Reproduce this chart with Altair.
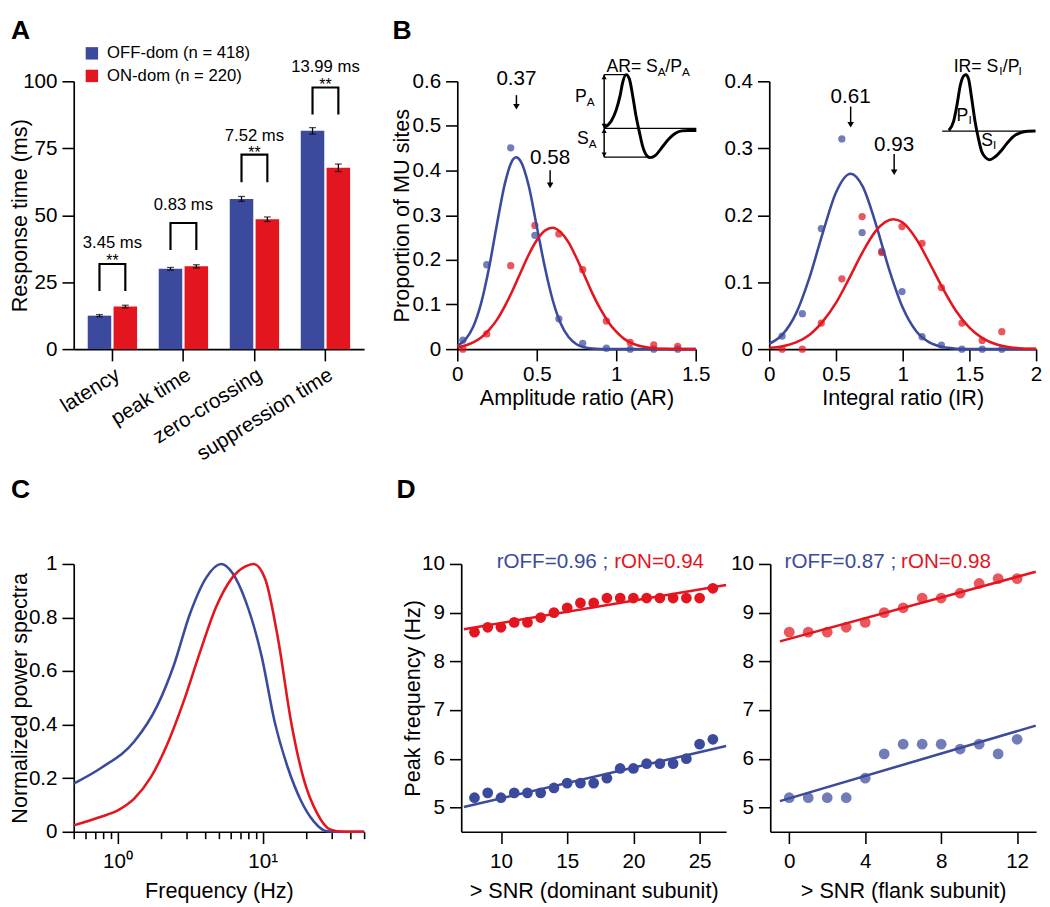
import altair as alt
import pandas as pd

BLUE = "#3C4A9E"
RED = "#E3151E"
FONT = "Liberation Sans"

# ---------------- Panel A data ----------------
a_cats = ["latency", "peak time", "zero-crossing", "suppression time"]
a_series = ["OFF-dom (n = 418)", "ON-dom (n = 220)"]
a_off = [12.5, 30.0, 56.1, 81.5]
a_on = [15.9, 30.9, 48.5, 67.7]
a_off_err = [0.4, 0.5, 0.9, 1.2]
a_on_err = [0.5, 0.6, 0.85, 1.4]
a_diff_label = ["3.45 ms", "0.83 ms", "7.52 ms", "13.99 ms"]
a_diff_y = [37.6, 52.0, 77.6, 103.4]
a_star_cats = ["latency", "zero-crossing", "suppression time"]
a_star_y = [30.9, 71.2, 96.8]
a_br_low = [21.7, 37.0, 62.3, 87.6]
a_br_high = [31.8, 47.1, 72.6, 97.7]

# ---------------- Panel B data (amplitude ratio) ----------------
ar_px = [0.035, 0.185, 0.336, 0.488, 0.639, 0.789, 0.938, 1.088, 1.236, 1.387]
ar_off = [0.020, 0.189, 0.451, 0.255, 0.068, 0.013, 0.002, 0.0, 0.0, 0.0]
ar_on = [0.0, 0.034, 0.187, 0.277, 0.258, 0.178, 0.063, 0.015, 0.0095, 0.006]
ar_off_cx = [0.0, 0.05, 0.10, 0.15, 0.20, 0.25, 0.30, 0.35, 0.37, 0.40, 0.45, 0.50, 0.55, 0.60, 0.65, 0.70, 0.75, 0.80, 0.85, 0.90, 1.0, 1.2, 1.5]
ar_off_cy = [0.008, 0.021, 0.050, 0.103, 0.183, 0.281, 0.372, 0.425, 0.430, 0.420, 0.365, 0.275, 0.185, 0.110, 0.058, 0.027, 0.011, 0.004, 0.0012, 0.0003, 0.0, 0.0, 0.0]
ar_on_cx = [0.0, 0.05, 0.10, 0.15, 0.20, 0.25, 0.30, 0.35, 0.40, 0.45, 0.50, 0.55, 0.60, 0.65, 0.70, 0.75, 0.80, 0.85, 0.90, 0.95, 1.00, 1.05, 1.10, 1.15, 1.20, 1.25, 1.30, 1.40, 1.50]
ar_on_cy = [0.004, 0.008, 0.015, 0.026, 0.043, 0.066, 0.097, 0.133, 0.173, 0.212, 0.244, 0.265, 0.272, 0.262, 0.239, 0.204, 0.165, 0.125, 0.090, 0.061, 0.039, 0.023, 0.013, 0.007, 0.0035, 0.0016, 0.0007, 0.0, 0.0]
ar_ann_x = [0.372, 0.584]
ar_ann_text = ["0.37", "0.58"]
ar_ann_ty = [0.591, 0.4154]
ar_ann_top = [0.569, 0.4007]
ar_ann_head = [0.543, 0.367]
# inset waveform (AR)
ar_wave_x = [0.924, 0.969, 1.0, 1.025, 1.041, 1.062, 1.082, 1.103, 1.123, 1.144, 1.165, 1.185, 1.212, 1.247, 1.288, 1.329, 1.37, 1.412, 1.452, 1.504]
ar_wave_y = [0.496, 0.511, 0.536, 0.569, 0.598, 0.615, 0.606, 0.569, 0.525, 0.489, 0.456, 0.437, 0.429, 0.434, 0.452, 0.47, 0.483, 0.489, 0.49, 0.49]
ar_seg_x1 = [0.924, 0.924, 0.924]
ar_seg_x2 = [1.504, 1.068, 1.216]
ar_seg_y = [0.4945, 0.615, 0.430]
ar_arr_x = [0.924, 0.924]
ar_arr_y1 = [0.4945, 0.430]
ar_arr_y2 = [0.615, 0.4945]
ar_head_up_y = [0.6095, 0.489]
ar_head_dn_y = [0.500, 0.4355]
ar_big_x = [0.938, 1.309, 0.741, 0.753]
ar_big_y = [0.620, 0.620, 0.5545, 0.4593]
ar_big_t = ["AR= S", "/P", "P", "S"]
ar_sub_x = [1.262, 1.414, 0.815, 0.827]
ar_sub_y = [0.612, 0.612, 0.545, 0.4505]
ar_sub_t = ["A", "A", "A", "A"]

# ---------------- Panel B data (integral ratio) ----------------
ir_px = [0.096, 0.248, 0.39, 0.544, 0.696, 0.843, 0.995, 1.145, 1.29, 1.444, 1.596, 1.743]
ir_off = [0.0195, 0.053, 0.18, 0.314, 0.174, 0.146, 0.086, 0.0185, 0.006, 0.0, 0.0, 0.0]
ir_on = [0.0, 0.0, 0.039, 0.105, 0.198, 0.144, 0.183, 0.158, 0.092, 0.039, 0.013, 0.026]
ir_off_cx = [0.0, 0.1, 0.2, 0.3, 0.4, 0.5, 0.61, 0.7, 0.8, 0.9, 1.0, 1.1, 1.2, 1.3, 1.4, 1.5, 1.75, 2.0]
ir_off_cy = [0.008, 0.022, 0.053, 0.106, 0.173, 0.234, 0.262, 0.243, 0.186, 0.118, 0.062, 0.027, 0.010, 0.003, 0.0007, 0.0, 0.0, 0.0]
ir_on_cx = [0.0, 0.1, 0.2, 0.3, 0.4, 0.5, 0.6, 0.7, 0.8, 0.93, 1.0, 1.1, 1.2, 1.3, 1.4, 1.5, 1.6, 1.7, 1.8, 1.9, 2.0]
ir_on_cy = [0.0016, 0.0042, 0.010, 0.021, 0.041, 0.069, 0.106, 0.145, 0.177, 0.194, 0.189, 0.165, 0.129, 0.091, 0.057, 0.032, 0.016, 0.0072, 0.0029, 0.001, 0.0004]
ir_ann_x = [0.61, 0.936]
ir_ann_text = ["0.61", "0.93"]
ir_ann_ty = [0.3673, 0.2964]
ir_ann_top = [0.3623, 0.2916]
ir_ann_head = [0.3351, 0.2642]
ir_wave_x = [1.346, 1.382, 1.407, 1.432, 1.456, 1.473, 1.493, 1.517, 1.542, 1.566, 1.59, 1.623, 1.652, 1.689, 1.738, 1.787, 1.836, 1.885, 1.934, 1.995]
ir_wave_y = [0.3267, 0.3404, 0.3648, 0.3941, 0.4078, 0.4098, 0.404, 0.3746, 0.3404, 0.316, 0.2964, 0.2857, 0.2828, 0.2867, 0.2964, 0.3087, 0.3184, 0.3234, 0.3253, 0.3257]
ir_seg_x1 = [1.296]
ir_seg_x2 = [1.995]
ir_seg_y = [0.3257]
ir_big_x = [1.382, 1.750, 1.404, 1.588]
ir_big_y = [0.4140, 0.4140, 0.3414, 0.3037]
ir_big_t = ["IR= S", "/P", "P", "S"]
ir_sub_x = [1.724, 1.868, 1.493, 1.676]
ir_sub_y = [0.4088, 0.4088, 0.3355, 0.2982]
ir_sub_t = ["I", "I", "I", "I"]

# ---------------- Panel C data ----------------
c_ticks = [0.5, 0.6, 0.7, 0.8, 0.9, 1, 2, 3, 4, 5, 6, 7, 8, 9, 10, 20, 30, 40, 50]
c_off_f = [0.5, 0.78, 1.31, 1.89, 2.44, 3.16, 4.09, 5.17, 6.18, 7.62, 9.84, 12.1, 14.9, 18.3, 22.5, 27.7, 35.0, 50.0]
c_off_p = [0.18, 0.24, 0.338, 0.473, 0.62, 0.814, 0.949, 1.0, 0.967, 0.863, 0.656, 0.411, 0.24, 0.118, 0.039, 0.002, 0.0, 0.0]
c_on_f = [0.5, 0.78, 1.02, 1.31, 1.70, 2.20, 2.85, 3.69, 4.78, 6.18, 7.62, 8.66, 10.4, 12.8, 15.7, 19.3, 23.7, 29.1, 35.9, 50.0]
c_on_p = [0.024, 0.057, 0.082, 0.125, 0.204, 0.326, 0.485, 0.668, 0.839, 0.949, 0.991, 1.0, 0.945, 0.717, 0.411, 0.192, 0.07, 0.009, 0.0, 0.0]

# ---------------- Panel D data ----------------
dl_x = [8, 9, 10, 11, 12, 13, 14, 15, 16, 17, 18, 19, 20, 21, 22, 23, 24, 25, 26]
dl_on = [8.6, 8.7, 8.7, 8.8, 8.8, 8.9, 9.0, 9.1, 9.2, 9.2, 9.3, 9.3, 9.3, 9.3, 9.3, 9.3, 9.3, 9.3, 9.5]
dl_off = [5.2, 5.3, 5.2, 5.3, 5.3, 5.3, 5.4, 5.5, 5.5, 5.5, 5.6, 5.8, 5.8, 5.9, 5.9, 5.9, 6.0, 6.3, 6.4]
dl_fit_x = [7.2, 27.0]
dl_fit_on = [8.66, 9.57]
dl_fit_off = [5.01, 6.26]
dr_x = [0, 1, 2, 3, 4, 5, 6, 7, 8, 9, 10, 11, 12]
dr_on = [8.6, 8.6, 8.6, 8.7, 8.8, 9.0, 9.1, 9.3, 9.3, 9.4, 9.6, 9.7, 9.7]
dr_off = [5.2, 5.2, 5.2, 5.2, 5.6, 6.1, 6.3, 6.3, 6.3, 6.2, 6.3, 6.1, 6.4]
dr_fit_x = [-0.49, 12.98]
dr_fit_on = [8.41, 9.84]
dr_fit_off = [5.13, 6.68]
dl_r = ["rOFF=0.96 ;", "rON=0.94"]
dr_r = ["rOFF=0.87 ;", "rON=0.98"]
dl_r_x = [18.1, 18.55]
dr_r_x = [5.63, 5.89]
d_r_y = [9.92, 9.92]


def lin(dom, typ="linear"):
    return alt.Scale(domain=dom, nice=False, zero=False, type=typ)


def panel_title(letter, dx, offset):
    return alt.TitleParams(letter, anchor="start", frame="group", dx=dx, offset=offset,
                           fontSize=27, fontWeight="bold", color="black")


# ================= Panel A =================
a_bar = pd.DataFrame({
    "cat": a_cats + a_cats,
    "series": [a_series[0]] * 4 + [a_series[1]] * 4,
    "value": a_off + a_on,
    "err": a_off_err + a_on_err,
})
a_bar["lo"] = a_bar["value"] - a_bar["err"]
a_bar["hi"] = a_bar["value"] + a_bar["err"]

rows = []
for c, lo, hi in zip(a_cats, a_br_low, a_br_high):
    rows += [
        {"cat": c, "series": a_series[0], "v": lo, "o": 0},
        {"cat": c, "series": a_series[0], "v": hi, "o": 1},
        {"cat": c, "series": a_series[1], "v": hi, "o": 2},
        {"cat": c, "series": a_series[1], "v": lo, "o": 3},
    ]
a_br = pd.DataFrame(rows)
a_lab = pd.DataFrame({"cat": a_cats, "y": a_diff_y, "t": a_diff_label})
a_st = pd.DataFrame({"cat": a_star_cats, "y": a_star_y, "t": ["**"] * len(a_star_cats)})

a_x = alt.X("cat:N", sort=a_cats,
            scale=alt.Scale(domain=a_cats, paddingInner=0.305, paddingOuter=0.197),
            axis=alt.Axis(title=None, labelAngle=-32, labelAlign="right", labelBaseline="top",
                          labelPadding=3))
a_xo = alt.XOffset("series:N", scale=alt.Scale(domain=a_series, paddingInner=0.09, paddingOuter=0))
a_yaxis = alt.Axis(values=[0, 25, 50, 75, 100], title="Response time (ms)",
                   titleX=-55, titleY=136.5, titleAngle=270, titleAlign="center", titleBaseline="middle")


def a_y(f):
    return alt.Y(f"{f}:Q", scale=alt.Scale(domain=[0, 100], nice=False), axis=a_yaxis)


a_bars = alt.Chart(a_bar).mark_bar().encode(
    x=a_x, xOffset=a_xo, y=a_y("value"),
    color=alt.Color("series:N", scale=alt.Scale(domain=a_series, range=[BLUE, RED]),
                    legend=alt.Legend(title=None, orient="none", legendX=10, legendY=-37,
                                      symbolType="square", symbolSize=160, symbolStrokeWidth=0,
                                      labelFontSize=17, labelOffset=7, rowPadding=5, padding=0,
                                      labelColor="black")))
a_err = alt.Chart(a_bar).mark_rule(color="black", strokeWidth=1.3).encode(
    x=a_x, xOffset=a_xo, y=a_y("lo"), y2=alt.Y2("hi:Q"))
a_cap_lo = alt.Chart(a_bar).mark_tick(color="black", thickness=1.3, size=7).encode(
    x=a_x, xOffset=a_xo, y=a_y("lo"))
a_cap_hi = alt.Chart(a_bar).mark_tick(color="black", thickness=1.3, size=7).encode(
    x=a_x, xOffset=a_xo, y=a_y("hi"))
a_brk = alt.Chart(a_br).mark_line(color="black", strokeWidth=2.2, strokeJoin="miter").encode(
    x=a_x, xOffset=a_xo, y=a_y("v"), detail="cat:N", order="o:Q")
a_txt = alt.Chart(a_lab).mark_text(fontSize=17, baseline="alphabetic", color="black").encode(
    x=a_x, y=a_y("y"), text="t:N")
a_star = alt.Chart(a_st).mark_text(fontSize=16, baseline="alphabetic", color="black").encode(
    x=a_x, y=a_y("y"), text="t:N")

A = alt.layer(a_bars, a_err, a_cap_lo, a_cap_hi, a_brk, a_txt, a_star).properties(
    width=296, height=273, title=panel_title("A", -64, 14))


# ================= Panel B builder =================
def b_panel(X, Y, px, poff, pon, cox, coy, cnx, cny, ann_x, ann_t, ann_ty, ann_top, ann_head,
            wx, wy, sx1, sx2, sy, arr, big, sub, width, title):
    layers = []
    layers.append(alt.Chart(pd.DataFrame({"x": px, "y": poff})).mark_circle(
        size=55, color=BLUE, opacity=0.72).encode(x=X("x"), y=Y("y")))
    layers.append(alt.Chart(pd.DataFrame({"x": px, "y": pon})).mark_circle(
        size=55, color=RED, opacity=0.72).encode(x=X("x"), y=Y("y")))
    layers.append(alt.Chart(pd.DataFrame({"x": cox, "y": coy})).mark_line(
        color=BLUE, strokeWidth=2.6, interpolate="monotone").encode(x=X("x"), y=Y("y")))
    layers.append(alt.Chart(pd.DataFrame({"x": cnx, "y": cny})).mark_line(
        color=RED, strokeWidth=2.6, interpolate="monotone").encode(x=X("x"), y=Y("y")))
    ann = pd.DataFrame({"x": ann_x, "t": ann_t, "ty": ann_ty, "top": ann_top, "head": ann_head})
    layers.append(alt.Chart(ann).mark_text(fontSize=21, align="center", baseline="alphabetic",
                                           color="black").encode(x=X("x"), y=Y("ty"), text="t:N"))
    layers.append(alt.Chart(ann).mark_rule(color="black", strokeWidth=1.5).encode(
        x=X("x"), y=Y("top"), y2=alt.Y2("head:Q")))
    layers.append(alt.Chart(ann).mark_point(shape="triangle-down", filled=True, size=45,
                                            color="black", opacity=1).encode(x=X("x"), y=Y("head")))
    # inset
    layers.append(alt.Chart(pd.DataFrame({"x": sx1, "x2": sx2, "y": sy})).mark_rule(
        color="black", strokeWidth=1.3).encode(x=X("x"), x2=alt.X2("x2:Q"), y=Y("y")))
    layers.append(alt.Chart(pd.DataFrame({"x": wx, "y": wy})).mark_line(
        color="black", strokeWidth=3, interpolate="monotone").encode(x=X("x"), y=Y("y")))
    if arr is not None:
        ax, ay1, ay2, hu, hd = arr
        layers.append(alt.Chart(pd.DataFrame({"x": ax, "y1": ay1, "y2": ay2})).mark_rule(
            color="black", strokeWidth=1.5).encode(x=X("x"), y=Y("y1"), y2=alt.Y2("y2:Q")))
        layers.append(alt.Chart(pd.DataFrame({"x": ax, "y": hu})).mark_point(
            shape="triangle-up", filled=True, size=28, color="black", opacity=1).encode(x=X("x"), y=Y("y")))
        layers.append(alt.Chart(pd.DataFrame({"x": ax, "y": hd})).mark_point(
            shape="triangle-down", filled=True, size=28, color="black", opacity=1).encode(x=X("x"), y=Y("y")))
    bx, by, bt = big
    layers.append(alt.Chart(pd.DataFrame({"x": bx, "y": by, "t": bt})).mark_text(
        fontSize=18, align="left", baseline="alphabetic", color="black").encode(
        x=X("x"), y=Y("y"), text="t:N"))
    sx, sy2, st = sub
    layers.append(alt.Chart(pd.DataFrame({"x": sx, "y": sy2, "t": st})).mark_text(
        fontSize=12, align="left", baseline="alphabetic", color="black").encode(
        x=X("x"), y=Y("y"), text="t:N"))
    props = dict(width=width, height=273)
    if title is not None:
        props["title"] = title
    return alt.layer(*layers).properties(**props)


ar_xaxis = alt.Axis(values=[0, 0.5, 1, 1.5], format="~g", title="Amplitude ratio (AR)", labelPadding=3,
                    titleX=121.5, titleY=56, titleAlign="center", titleBaseline="alphabetic")
ar_yaxis = alt.Axis(values=[0, 0.1, 0.2, 0.3, 0.4, 0.5, 0.6], format="~g", title="Proportion of MU sites",
                    titleX=-57, titleY=136.5, titleAngle=270, titleAlign="center", titleBaseline="middle")


def arX(f):
    return alt.X(f"{f}:Q", scale=lin([0, 1.5]), axis=ar_xaxis)


def arY(f):
    return alt.Y(f"{f}:Q", scale=lin([0, 0.6]), axis=ar_yaxis)


Bl = b_panel(arX, arY, ar_px, ar_off, ar_on, ar_off_cx, ar_off_cy, ar_on_cx, ar_on_cy,
             ar_ann_x, ar_ann_text, ar_ann_ty, ar_ann_top, ar_ann_head,
             ar_wave_x, ar_wave_y, ar_seg_x1, ar_seg_x2, ar_seg_y,
             (ar_arr_x, ar_arr_y1, ar_arr_y2, ar_head_up_y, ar_head_dn_y),
             (ar_big_x, ar_big_y, ar_big_t), (ar_sub_x, ar_sub_y, ar_sub_t),
             243, panel_title("B", -66, 14))

ir_xaxis = alt.Axis(values=[0, 0.5, 1, 1.5, 2], format="~g", title="Integral ratio (IR)", labelPadding=3,
                    titleX=136, titleY=56, titleAlign="center", titleBaseline="alphabetic")
ir_yaxis = alt.Axis(values=[0, 0.1, 0.2, 0.3, 0.4], format="~g", title=None)


def irX(f):
    return alt.X(f"{f}:Q", scale=lin([0, 2]), axis=ir_xaxis)


def irY(f):
    return alt.Y(f"{f}:Q", scale=lin([0, 0.4]), axis=ir_yaxis)


Br = b_panel(irX, irY, ir_px, ir_off, ir_on, ir_off_cx, ir_off_cy, ir_on_cx, ir_on_cy,
             ir_ann_x, ir_ann_text, ir_ann_ty, ir_ann_top, ir_ann_head,
             ir_wave_x, ir_wave_y, ir_seg_x1, ir_seg_x2, ir_seg_y, None,
             (ir_big_x, ir_big_y, ir_big_t), (ir_sub_x, ir_sub_y, ir_sub_t),
             272, None)

# ================= Panel C =================
c_xaxis = alt.Axis(values=c_ticks, labelOverlap=False,
                   labelExpr="datum.value == 1 ? '10\u2070' : (datum.value == 10 ? '10\u00b9' : '')",
                   tickSize={"condition": {"test": "datum.value == 1 || datum.value == 10", "value": 12}, "value": 7},
                   labelPadding=7, title="Frequency (Hz)", titleX=148, titleY=67,
                   titleAlign="center", titleBaseline="alphabetic")
c_yaxis = alt.Axis(values=[0, 0.2, 0.4, 0.6, 0.8, 1], format="~g", title="Normalized power spectra",
                   titleX=-55, titleY=136.5, titleAngle=270, titleAlign="center", titleBaseline="middle")


def cX(f):
    return alt.X(f"{f}:Q", scale=lin([0.5, 50], "log"), axis=c_xaxis)


def cY(f):
    return alt.Y(f"{f}:Q", scale=lin([0, 1]), axis=c_yaxis)


c_l1 = alt.Chart(pd.DataFrame({"f": c_off_f, "p": c_off_p})).mark_line(
    color=BLUE, strokeWidth=2.6, interpolate="monotone").encode(x=cX("f"), y=cY("p"))
c_l2 = alt.Chart(pd.DataFrame({"f": c_on_f, "p": c_on_p})).mark_line(
    color=RED, strokeWidth=2.6, interpolate="monotone").encode(x=cX("f"), y=cY("p"))
C = alt.layer(c_l1, c_l2).properties(width=296, height=273, title=panel_title("C", -64, 50))


# ================= Panel D =================
def d_panel(xdom, xvals, xtitle, ytitle, xs, on, off, fx, fon, foff, rtxt, rx, dot_opacity, width, title):
    xaxis = alt.Axis(values=xvals, title=xtitle, titleX=width / 2, titleY=67, labelPadding=7,
                     titleAlign="center", titleBaseline="alphabetic")
    if ytitle:
        yaxis = alt.Axis(values=[5, 6, 7, 8, 9, 10], title=ytitle, titleX=-50, titleY=136.5,
                         titleAngle=270, titleAlign="center", titleBaseline="middle")
    else:
        yaxis = alt.Axis(values=[5, 6, 7, 8, 9, 10], title=None)

    def X(f):
        return alt.X(f"{f}:Q", scale=lin(xdom), axis=xaxis)

    def Y(f):
        return alt.Y(f"{f}:Q", scale=lin([4.5, 10]), axis=yaxis)

    layers = [
        alt.Chart(pd.DataFrame({"x": xs, "y": on})).mark_circle(size=120, color=RED, opacity=dot_opacity).encode(x=X("x"), y=Y("y")),
        alt.Chart(pd.DataFrame({"x": xs, "y": off})).mark_circle(size=120, color=BLUE, opacity=dot_opacity).encode(x=X("x"), y=Y("y")),
        alt.Chart(pd.DataFrame({"x": fx, "y": fon})).mark_line(color=RED, strokeWidth=2.6).encode(x=X("x"), y=Y("y")),
        alt.Chart(pd.DataFrame({"x": fx, "y": foff})).mark_line(color=BLUE, strokeWidth=2.6).encode(x=X("x"), y=Y("y")),
        alt.Chart(pd.DataFrame({"x": [rx[0]], "y": [d_r_y[0]], "t": [rtxt[0]]})).mark_text(
            fontSize=21, align="right", baseline="alphabetic", color=BLUE).encode(x=X("x"), y=Y("y"), text="t:N"),
        alt.Chart(pd.DataFrame({"x": [rx[1]], "y": [d_r_y[1]], "t": [rtxt[1]]})).mark_text(
            fontSize=21, align="left", baseline="alphabetic", color=RED).encode(x=X("x"), y=Y("y"), text="t:N"),
    ]
    props = dict(width=width, height=273)
    if title is not None:
        props["title"] = title
    return alt.layer(*layers).properties(**props)


Dl = d_panel([7, 27], [10, 15, 20, 25], "> SNR (dominant subunit)", "Peak frequency (Hz)",
             dl_x, dl_on, dl_off, dl_fit_x, dl_fit_on, dl_fit_off, dl_r, dl_r_x, 1.0, 270,
             panel_title("D", -66, 48))
Dr = d_panel([-1, 13], [0, 4, 8, 12], "> SNR (flank subunit)", None,
             dr_x, dr_on, dr_off, dr_fit_x, dr_fit_on, dr_fit_off, dr_r, dr_r_x, 0.72, 271, None)

# ================= Layout =================
top = alt.hconcat(A, alt.hconcat(Bl, Br, spacing=75, bounds="flush"), spacing=26)
bottom = alt.hconcat(C, alt.hconcat(Dl, Dr, spacing=45, bounds="flush"), spacing=27)
chart = alt.vconcat(top, bottom, spacing=12).properties(padding=0)

chart = chart.configure(font=FONT).configure_view(stroke=None).configure_axis(
    domainColor="black", domainWidth=1.7, tickColor="black", tickWidth=1.6, tickSize=12,
    labelColor="black", titleColor="black", labelFontSize=21, titleFontSize=22,
    titleFontWeight="normal", grid=False, labelFlush=False, labelPadding=5,
    labelFont=FONT, titleFont=FONT)

chart.save("out.html", embed_options={"renderer": "svg", "actions": False})
